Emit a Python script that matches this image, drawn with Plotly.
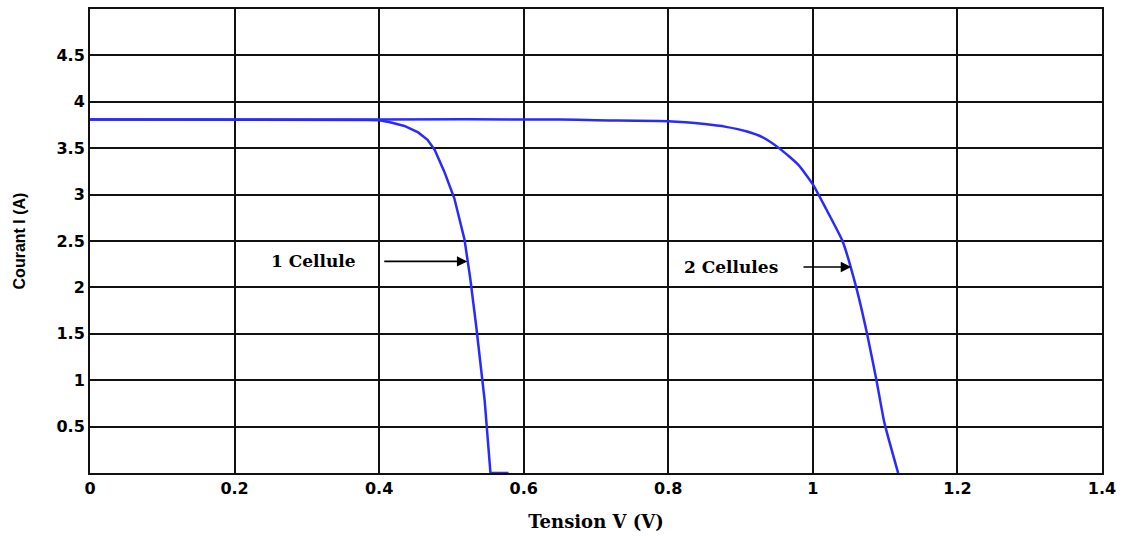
import plotly.graph_objects as go

# I-V characteristic of one solar cell and of two cells in series
v_one = [0.0, 0.2, 0.35, 0.385, 0.40, 0.415, 0.435, 0.454, 0.467, 0.477, 0.49,
         0.504, 0.518, 0.526, 0.534, 0.541, 0.546, 0.554, 0.579]
i_one = [3.81, 3.81, 3.81, 3.805, 3.80, 3.78, 3.74, 3.67, 3.59, 3.48, 3.25,
         2.96, 2.52, 2.10, 1.60, 1.10, 0.78, 0.0, 0.0]

v_two = [0.0, 0.4, 0.65, 0.7, 0.8, 0.85, 0.88, 0.909, 0.93, 0.955, 0.98, 1.0,
         1.018, 1.041, 1.06, 1.075, 1.088, 1.099, 1.118]
i_two = [3.81, 3.81, 3.81, 3.80, 3.79, 3.76, 3.73, 3.68, 3.62, 3.49, 3.32, 3.11,
         2.85, 2.50, 2.00, 1.50, 1.00, 0.54, 0.0]

x_ticks = [0, 0.2, 0.4, 0.6, 0.8, 1.0, 1.2, 1.4]
x_tick_text = ["0", "0.2", "0.4", "0.6", "0.8", "1", "1.2", "1.4"]
y_ticks = [0.5, 1, 1.5, 2, 2.5, 3, 3.5, 4, 4.5]
y_tick_text = ["0.5", "1", "1.5", "2", "2.5", "3", "3.5", "4", "4.5"]

blue = "#2a2aff"
serif = "DejaVu Serif"
sans = "DejaVu Sans"

fig = go.Figure()
fig.add_trace(go.Scatter(x=v_one, y=i_one, mode="lines",
                         line=dict(color=blue, width=2.5), name="1 Cellule"))
fig.add_trace(go.Scatter(x=v_two, y=i_two, mode="lines",
                         line=dict(color=blue, width=2.5, shape="spline", smoothing=0.5),
                         name="2 Cellules"))

# curve labels with arrows pointing at each characteristic
fig.add_annotation(x=0.522, y=2.28, ax=0.405, ay=2.28, xref="x", yref="y",
                   axref="x", ayref="y", showarrow=True, arrowhead=2,
                   arrowsize=1.3, arrowwidth=1.6, arrowcolor="black", text="")
fig.add_annotation(x=0.309, y=2.28, xref="x", yref="y", text="<b>1 Cellule</b>",
                   showarrow=False, font=dict(family=serif, size=17, color="black"))
fig.add_annotation(x=1.053, y=2.22, ax=0.985, ay=2.22, xref="x", yref="y",
                   axref="x", ayref="y", showarrow=True, arrowhead=2,
                   arrowsize=1.3, arrowwidth=1.6, arrowcolor="black", text="")
fig.add_annotation(x=0.887, y=2.22, xref="x", yref="y", text="<b>2 Cellules</b>",
                   showarrow=False, font=dict(family=serif, size=17, color="black"))

axis_common = dict(showgrid=True, gridcolor="#111111", gridwidth=2,
                   showline=True, linecolor="#111111", linewidth=2, mirror=True,
                   zeroline=False, ticks="", fixedrange=True)

fig.update_xaxes(range=[0, 1.4], tickvals=x_ticks,
                 ticktext=["<b>%s</b>" % t for t in x_tick_text],
                 tickfont=dict(family=sans, size=16, color="black"),
                 title=dict(text="<b>Tension V (V)</b>", standoff=18,
                            font=dict(family=serif, size=18, color="black")),
                 **axis_common)
fig.update_yaxes(range=[0, 5], tickvals=y_ticks,
                 ticktext=["<b>%s</b>" % t for t in y_tick_text],
                 tickfont=dict(family=sans, size=16, color="black"),
                 title=dict(text="<b>Courant I (A)</b>", standoff=27,
                            font=dict(family="Liberation Sans", size=16, color="black")),
                 **axis_common)

fig.update_layout(width=1123, height=536, showlegend=False,
                  paper_bgcolor="white", plot_bgcolor="white",
                  margin=dict(l=90, r=17, t=7, b=63),
                  font=dict(family=sans, color="black"))

fig.write_html("out.html")
